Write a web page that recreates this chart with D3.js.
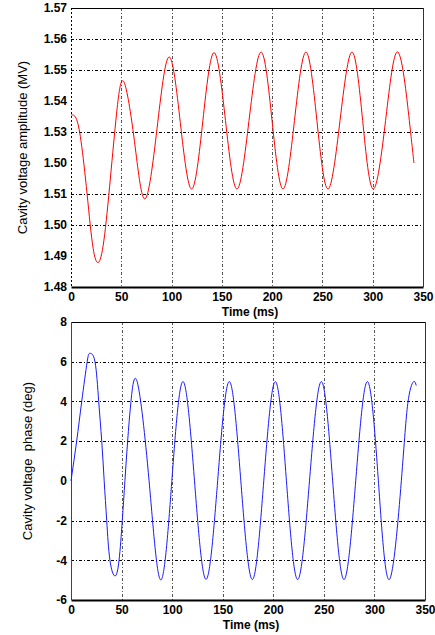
<!DOCTYPE html>
<html>
<head>
<meta charset="utf-8">
<script src="https://cdnjs.cloudflare.com/ajax/libs/d3/7.8.5/d3.min.js"></script>
<style>
  body { margin: 0; background: #fff; }
  svg { display: block; }
  text { font-family: "Liberation Sans", Arial, sans-serif; fill: #000; }
</style>
</head>
<body>
<svg id="chart" width="435" height="635"></svg>
<script>
// values
var ampTime = [0, 5, 10, 16, 22, 27.8, 33.5, 40, 46, 52.7, 63.1, 73.6, 85.5, 97.4, 108.7, 120,
  131.1, 142.2, 153.6, 165, 177, 189, 199.9, 210.8, 222.2, 233.6, 244.5, 255.5, 267.5, 279.4,
  290, 300.5, 312.8, 325, 336.4, 341];
var ampValues = [1.5355, 1.5345, 1.527, 1.510, 1.4925, 1.4881, 1.497, 1.518, 1.538, 1.5461, 1.527,
  1.5084, 1.531, 1.5542, 1.533, 1.5116, 1.5336, 1.5556, 1.5337, 1.5116, 1.5337, 1.5558, 1.5337,
  1.5116, 1.5337, 1.5558, 1.5337, 1.5116, 1.5337, 1.5558, 1.5337, 1.5116, 1.5337, 1.5558, 1.5337, 1.520];

var phaseTime = [0, 5.6, 10.6, 16, 18.8, 23.7, 27.4, 30.4, 32.8, 35.3, 38.5, 43.5, 47.5, 50.7, 53.3,
  56, 59.3, 65.6, 77.2, 88.7, 99.7, 110.7, 122.1, 133.5, 145, 156.5, 167.9, 179.3, 190.6, 202,
  213, 224.1, 235.8, 247.5, 258.7, 269.9, 281.5, 293, 303.9, 314.7, 326.6, 333, 338.5, 341.3];
var phaseValues = [0, 2, 4, 6, 6.42, 6, 4, 2, 0, -2, -4, -4.79, -4, -2, 0,
  2, 4, 4.96, 0, -4.99, 0, 5.0, 0, -4.96, 0, 5.0, 0, -4.97, 0, 5.0,
  0, -4.97, 0, 5.0, 0, -4.97, 0, 5.0, 0, -4.97, 0, 3.9, 4.99, 4.8];

var timeTicks = [0, 50, 100, 150, 200, 250, 300, 350];
var timeGrid = [50, 100, 150, 200, 250, 300];
var ampTicks = [1.48, 1.49, 1.50, 1.51, 1.52, 1.53, 1.54, 1.55, 1.56, 1.57];
var ampTickLabels = ["1.48", "1.49", "1.50", "1.51", "1.50", "1.53", "1.54", "1.55", "1.56", "1.57"];
var ampGrid = [1.50, 1.51, 1.53, 1.55, 1.56];
var phaseTicks = [-6, -4, -2, 0, 2, 4, 6, 8];
var phaseGrid = [-4, -2, 2, 4, 6];

var svg = d3.select("#chart");

function drawPanel(opt) {
  var g = svg.append("g");
  var x = d3.scaleLinear().domain([0, 350]).range([opt.left, opt.right]);
  var y = d3.scaleLinear().domain(opt.domain).range([opt.bottom, opt.top]);

  // grid
  g.selectAll(".vgrid").data(timeGrid).enter().append("line")
    .attr("x1", function(d){ return Math.round(x(d)) + 0.5; })
    .attr("x2", function(d){ return Math.round(x(d)) + 0.5; })
    .attr("y1", opt.top).attr("y2", opt.bottom)
    .style("stroke", "#555").style("stroke-dasharray", "3,2,1,2");

  g.selectAll(".hgrid").data(opt.grid).enter().append("line")
    .attr("x1", opt.left).attr("x2", opt.right)
    .attr("y1", function(d){ return Math.round(y(d)) + 0.5; })
    .attr("y2", function(d){ return Math.round(y(d)) + 0.5; })
    .style("stroke", "#000").style("stroke-dasharray", "3,2,1,2");

  // frame
  g.append("line").attr("x1", opt.left).attr("x2", opt.right)
    .attr("y1", opt.top + 0.5).attr("y2", opt.top + 0.5).style("stroke", "#000");
  g.append("line").attr("x1", opt.right + 0.5).attr("x2", opt.right + 0.5)
    .attr("y1", opt.top).attr("y2", opt.bottom).style("stroke", "#333");
  g.append("line").attr("x1", opt.left + 0.5).attr("x2", opt.left + 0.5)
    .attr("y1", opt.top).attr("y2", opt.bottom)
    .style("stroke", opt.leftColor).style("stroke-dasharray", opt.leftDash);

  // curve
  var line = d3.line()
    .x(function(d){ return x(d[0]); })
    .y(function(d){ return y(d[1]); })
    .curve(d3.curveNatural);
  g.append("path")
    .datum(d3.zip(opt.time, opt.values))
    .attr("d", line)
    .style("fill", "none")
    .style("stroke", opt.color)
    .style("stroke-width", 1);

  // x axis
  var xAxis = d3.axisBottom(x).tickValues(timeTicks).tickSize(0).tickPadding(5);
  var xg = g.append("g").attr("transform", "translate(0," + opt.bottom + ")").call(xAxis);
  xg.select(".domain").style("stroke", "#000").style("stroke-width", 2);
  xg.selectAll("text").style("font-size", "12px").style("font-weight", "bold")
    .style("font-family", "'Liberation Sans', Arial, sans-serif");

  // y axis
  var yAxis = d3.axisLeft(y).tickValues(opt.ticks).tickSize(0).tickPadding(4)
    .tickFormat(function(d, i){ return opt.tickLabels[i]; });
  var yg = g.append("g").attr("transform", "translate(" + opt.left + ",0)").call(yAxis);
  yg.select(".domain").remove();
  yg.selectAll("text").style("font-size", "12px").style("font-weight", "bold")
    .style("font-family", "'Liberation Sans', Arial, sans-serif");

  g.append("text")
    .attr("x", (opt.left + opt.right) / 2 + 3)
    .attr("y", opt.bottom + 29)
    .attr("text-anchor", "middle")
    .style("font-size", "12px").style("font-weight", "bold")
    .text("Time (ms)");

  g.append("text")
    .attr("transform", "translate(" + opt.labelX + "," + ((opt.top + opt.bottom) / 2) + ") rotate(-90)")
    .attr("dy", "0.35em")
    .attr("text-anchor", "middle")
    .style("font-size", "13px")
    .style("white-space", "pre")
    .text(opt.label);
}

drawPanel({
  left: 71, right: 423, top: 8, bottom: 287,
  domain: [1.48, 1.57],
  grid: ampGrid, ticks: ampTicks, tickLabels: ampTickLabels,
  time: ampTime, values: ampValues,
  color: "#ff0000", leftColor: "#000", leftDash: "2,2",
  labelX: 22, label: "Cavity voltage amplitude (MV)"
});

drawPanel({
  left: 71, right: 425, top: 322, bottom: 600,
  domain: [-6, 8],
  grid: phaseGrid, ticks: phaseTicks,
  tickLabels: phaseTicks.map(function(d){ return String(d); }),
  time: phaseTime, values: phaseValues,
  color: "#1a1aff", leftColor: "#444", leftDash: null,
  labelX: 27, label: "Cavity voltage  phase (deg)"
});
</script>
</body>
</html>
